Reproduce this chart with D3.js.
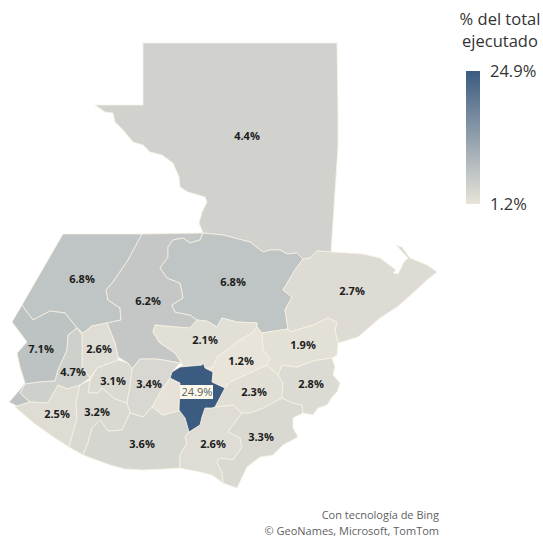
<!DOCTYPE html>
<html>
<head>
<meta charset="utf-8">
<script src="https://cdn.jsdelivr.net/npm/d3@7"></script>
<style>
  html, body { margin: 0; padding: 0; background: #fff; }
  svg { display: block; }
  text { font-family: "Open Sans", sans-serif; }
</style>
</head>
<body>
<svg id="chart" width="543" height="536"></svg>
<script>
// departments and the % shown on each one
const departments = ['Petén','Huehuetenango','Quiché','Alta Verapaz','Izabal','San Marcos','Totonicapán','Quetzaltenango','Sololá','Chimaltenango','Retalhuleu','Suchitepéquez','Escuintla','Santa Rosa','Jutiapa','Jalapa','Chiquimula','Zacapa','El Progreso','Baja Verapaz','Sacatepéquez','Guatemala'];
const values = [4.4,6.8,6.2,6.8,2.7,7.1,2.6,4.7,3.1,3.4,2.5,3.2,3.6,2.6,3.3,2.3,2.8,1.9,1.2,2.1,1.5,24.9];
const showLabel = departments.map(d => d !== 'Sacatepéquez');

const legendTitle = ['% del total','ejecutado'];
const credits = ['Con tecnología de Bing','© GeoNames, Microsoft, TomTom'];

// outlines
const outlines = [
  [[143,43],[337,43],[338,113],[338,147],[331,252],[317,251],[310,258],[303,259],[297,253],[287,254],[280,250],[270,250],[263,252],[250,242],[223,235],[203,233],[199,223],[202,212],[207,202],[205,197],[188,192],[180,187],[179,177],[173,163],[162,155],[150,152],[143,145],[133,142],[123,130],[115,122],[113,113],[105,112],[95,105],[143,105]],
  [[63,234],[142,234],[128,260],[113,282],[106,290],[108,300],[120,308],[121,320],[107,323],[92,326],[83,333],[77,328],[65,313],[50,311],[33,320],[27,312],[22,305]],
  [[142,234],[203,233],[200,240],[190,243],[183,238],[173,240],[168,247],[168,257],[160,268],[167,278],[180,283],[182,292],[183,298],[172,305],[175,312],[190,315],[197,320],[190,328],[175,327],[155,325],[153,332],[160,343],[175,353],[183,365],[180,363],[157,359],[140,359],[132,369],[128,363],[118,357],[115,343],[107,323],[121,320],[120,308],[108,300],[106,290],[113,282],[128,260]],
  [[203,233],[223,235],[250,242],[263,252],[270,250],[280,250],[287,254],[297,253],[303,259],[295,270],[283,290],[292,297],[285,310],[288,329],[262,333],[257,327],[257,323],[237,322],[222,318],[217,327],[207,321],[197,320],[190,315],[175,312],[172,305],[183,298],[182,292],[180,283],[167,278],[160,268],[168,257],[168,247],[173,240],[183,238],[190,243],[200,240]],
  [[303,259],[310,258],[317,251],[332,252],[347,253],[363,254],[380,258],[392,267],[396,270],[393,273],[398,274],[404,262],[408,258],[396,245],[402,247],[410,258],[427,265],[437,272],[427,280],[413,293],[397,307],[380,318],[358,337],[338,343],[335,330],[337,322],[328,318],[313,325],[290,332],[288,329],[285,310],[292,297],[283,290],[295,270]],
  [[22,305],[27,312],[33,320],[50,311],[65,313],[77,328],[68,335],[67,350],[58,370],[55,381],[40,382],[25,384],[20,393],[30,402],[17,406],[9,402],[18,392],[25,383],[20,367],[17,353],[27,342],[12,322]],
  [[77,328],[83,333],[92,326],[107,323],[115,343],[118,357],[118,360],[110,363],[97,368],[90,378],[82,367],[82,335]],
  [[77,328],[82,335],[82,367],[90,378],[80,385],[67,389],[58,385],[48,403],[30,402],[20,393],[25,384],[40,382],[55,381],[58,370],[67,350],[68,335]],
  [[97,368],[110,363],[118,360],[128,363],[132,369],[130,387],[127,403],[115,399],[102,388],[98,393],[88,393],[90,380]],
  [[132,369],[140,359],[157,359],[180,363],[172,372],[170,378],[160,393],[152,407],[143,417],[130,413],[127,403],[130,387]],
  [[15,407],[30,402],[48,403],[58,385],[67,389],[80,385],[76,403],[77,418],[69,447],[55,438],[35,424]],
  [[80,385],[90,380],[88,393],[98,393],[102,388],[115,399],[127,403],[130,413],[122,430],[108,431],[100,420],[92,428],[88,443],[83,455],[69,447],[77,418],[76,403]],
  [[130,413],[143,417],[152,407],[163,415],[182,410],[185,418],[189,432],[185,437],[187,443],[180,455],[180,468],[165,469],[143,470],[125,469],[110,465],[83,455],[88,443],[92,428],[100,420],[108,431],[122,430]],
  [[189,432],[200,425],[202,417],[205,408],[212,408],[215,407],[233,405],[242,413],[233,425],[228,432],[240,438],[242,447],[233,460],[220,458],[217,462],[222,473],[223,483],[212,475],[200,472],[180,468],[180,455],[187,443],[185,437]],
  [[242,413],[250,413],[263,408],[282,398],[293,403],[302,405],[303,413],[293,418],[293,428],[298,437],[283,445],[273,455],[260,457],[247,467],[237,488],[223,483],[222,473],[217,462],[220,458],[233,460],[242,447],[240,438],[228,432],[233,425]],
  [[225,388],[230,382],[267,365],[278,375],[283,383],[282,398],[263,408],[250,413],[242,413],[233,405],[215,407]],
  [[278,375],[282,365],[297,367],[307,363],[317,360],[332,358],[335,367],[333,375],[340,383],[337,392],[332,397],[327,405],[318,408],[313,415],[303,413],[302,405],[293,403],[282,398],[283,383]],
  [[262,333],[288,329],[290,332],[313,325],[328,318],[337,322],[335,330],[338,343],[337,355],[332,358],[317,360],[307,363],[297,367],[282,365],[278,375],[267,365],[270,358],[263,350]],
  [[257,327],[262,333],[263,350],[270,358],[267,365],[230,382],[225,388],[212,382],[213,372],[205,368],[212,368],[217,357],[237,342],[253,332]],
  [[155,325],[175,327],[190,328],[197,320],[207,321],[217,327],[222,318],[237,322],[257,323],[257,327],[253,332],[237,342],[217,357],[212,368],[205,368],[203,362],[202,365],[180,367],[183,365],[175,353],[160,343],[153,332]],
  [[170,378],[180,383],[179,410],[182,410],[163,415],[152,407],[160,393]],
  [[170,378],[172,372],[180,367],[202,365],[203,362],[205,368],[213,372],[212,382],[225,388],[215,407],[212,408],[205,408],[202,417],[200,425],[189,432],[185,418],[179,410],[180,383]]
];

// where each % sits on the map
const labelSpots = [[247,136],[82,279],[148,301],[233,282],[352,291],[41,349],[99,349],[73,372],[113,381],[149,384],[57,414],[97,412],[142,444],[213,444],[261,437],[254,392],[311,384],[303,345],[241,361],[205,340],[0,0],[197,392]];

const svg = d3.select('#chart');

const color = d3.scaleLinear()
  .domain([1.2, 24.9])
  .range(['#e8e4d9', '#3b5b80']);

const path = d3.geoPath(d3.geoIdentity());

const features = departments.map((name, i) => ({
  type: 'Feature',
  properties: {name, value: values[i]},
  geometry: {type: 'Polygon', coordinates: [[...outlines[i], outlines[i][0]]]}
}));

svg.append('g')
  .selectAll('path')
  .data(features)
  .join('path')
  .attr('d', path)
  .attr('fill', d => color(d.properties.value))
  .attr('stroke', '#f7f1e3')
  .attr('stroke-width', 0.8)
  .attr('stroke-linejoin', 'round');

// labels
const labels = svg.append('g');
departments.forEach((d, i) => {
  if (!showLabel[i]) return;
  const txt = d3.format('.1f')(values[i]) + '%';
  const [x, y] = labelSpots[i];
  if (values[i] === d3.max(values)) {
    labels.append('rect')
      .attr('x', x - 17).attr('y', y - 7)
      .attr('width', 33).attr('height', 14)
      .attr('fill', '#fbf8ec');
    labels.append('text')
      .attr('x', x).attr('y', y + 4)
      .attr('text-anchor', 'middle')
      .attr('font-size', 11)
      .attr('fill', '#5c5c5c')
      .text(txt);
  } else {
    labels.append('text')
      .attr('x', x).attr('y', y + 4)
      .attr('text-anchor', 'middle')
      .attr('font-size', 11)
      .attr('font-weight', 700)
      .attr('fill', '#1c1c1c')
      .text(txt);
  }
});

// legend
const legendY = d3.scaleLinear().domain([1.2, 24.9]).range([204, 71]);

const grad = svg.append('defs').append('linearGradient')
  .attr('id', 'ramp')
  .attr('x1', 0).attr('y1', 1).attr('x2', 0).attr('y2', 0);
grad.selectAll('stop')
  .data(color.domain())
  .join('stop')
  .attr('offset', d => (d - 1.2) / (24.9 - 1.2))
  .attr('stop-color', d => color(d));

svg.append('rect')
  .attr('x', 466).attr('y', legendY(24.9))
  .attr('width', 14).attr('height', legendY(1.2) - legendY(24.9))
  .attr('fill', 'url(#ramp)');

svg.selectAll('.legend-val')
  .data(color.domain())
  .join('text')
  .attr('class', 'legend-val')
  .attr('x', 490)
  .attr('y', d => legendY(d) + 6)
  .attr('font-size', 16.5)
  .attr('fill', '#333')
  .text(d => d3.format('.1f')(d) + '%');

svg.selectAll('.legend-title')
  .data(legendTitle)
  .join('text')
  .attr('class', 'legend-title')
  .attr('x', 500)
  .attr('y', (d, i) => 25 + i * 22)
  .attr('text-anchor', 'middle')
  .attr('font-size', 16.5)
  .attr('fill', '#333')
  .text(d => d);

svg.selectAll('.credit')
  .data(credits)
  .join('text')
  .attr('class', 'credit')
  .attr('x', 439)
  .attr('y', (d, i) => 519 + i * 15.5)
  .attr('text-anchor', 'end')
  .attr('font-size', 11)
  .attr('fill', '#5f5f5f')
  .text(d => d);
</script>
</body>
</html>
